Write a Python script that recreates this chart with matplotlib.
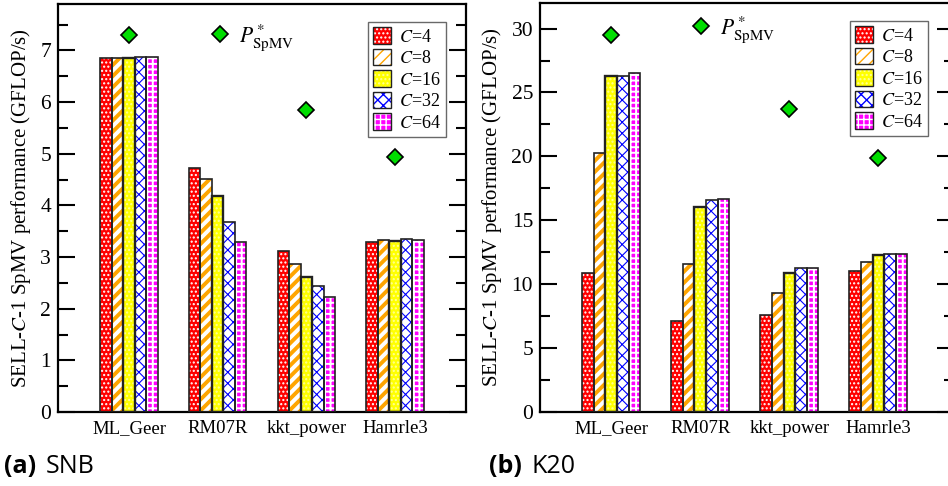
import matplotlib
matplotlib.use("Agg")
import matplotlib.pyplot as plt
from matplotlib.patches import Patch
from matplotlib.lines import Line2D
from matplotlib.legend_handler import HandlerTuple
import numpy as np

plt.rcParams['font.family'] = ['Liberation Serif', 'DejaVu Serif']
plt.rcParams['mathtext.fontset'] = 'stix'

# data
MATRICES = ['ML_Geer', 'RM07R', 'kkt_power', 'Hamrle3']
C_LABELS = ['$C$=4', '$C$=8', '$C$=16', '$C$=32', '$C$=64']

SNB_C4 = [6.86, 4.72, 3.12, 3.29]
SNB_C8 = [6.86, 4.52, 2.86, 3.33]
SNB_C16 = [6.86, 4.19, 2.62, 3.32]
SNB_C32 = [6.88, 3.68, 2.44, 3.35]
SNB_C64 = [6.88, 3.29, 2.23, 3.34]
SNB_PSTAR = [7.30, np.nan, 5.85, 4.93]

K20_C4 = [10.9, 7.1, 7.6, 11.0]
K20_C8 = [20.3, 11.6, 9.3, 11.7]
K20_C16 = [26.3, 16.0, 10.9, 12.3]
K20_C32 = [26.3, 16.6, 11.3, 12.4]
K20_C64 = [26.5, 16.7, 11.3, 12.4]
K20_PSTAR = [29.5, np.nan, 23.7, 19.9]

# face, hatch, hatch colour, hatch linewidth
STYLES = [
    ('#ff0000', '....', 'white', 1.0),
    ('white', '///', '#ffa500', 2.8),
    ('#ffff00', '....', '#ffff99', 1.0),
    ('white', 'xxx', '#0000ff', 0.8),
    ('#ff00ff', '+++', 'white', 1.4),
]
EDGE = '#222222'
WIDTH = 0.13
X = np.arange(1, len(MATRICES) + 1)


def hatched_bar(ax, x, h, style, lw=1.2):
    face, hatch, hcol, hlw = style
    with plt.rc_context({'hatch.linewidth': hlw}):
        base = ax.bar(x, h, WIDTH, color=face, hatch=hatch, edgecolor=hcol,
                      linewidth=0, zorder=2)
        for p in base:
            if hasattr(p, 'set_hatch_linewidth'):
                p.set_hatch_linewidth(hlw)
    ax.bar(x, h, WIDTH, fill=False, edgecolor=EDGE, linewidth=lw, zorder=3)


def legend_handle(style):
    face, hatch, hcol, hlw = style
    with plt.rc_context({'hatch.linewidth': hlw}):
        p1 = Patch(facecolor=face, hatch=hatch, edgecolor=hcol, linewidth=0)
        if hasattr(p1, 'set_hatch_linewidth'):
            p1.set_hatch_linewidth(hlw)
    p2 = Patch(fill=False, edgecolor=EDGE, linewidth=1.0)
    return (p1, p2)


def panel(ax, series, pstar, xmax, ymax, major, minor, legx, legy, px, py):
    for i, vals in enumerate(series):
        hatched_bar(ax, X + (i - 2) * WIDTH, vals, STYLES[i],
                    lw=1.7 if i == 2 else 1.2)
    ax.plot(X, pstar, 'D', color='#00dd00', markeredgecolor='black',
            markeredgewidth=1.2, markersize=8, zorder=4)
    ax.set_xlim(0.2, xmax)
    ax.set_ylim(0, ymax)
    ax.set_xticks(X)
    ax.set_xticklabels(MATRICES, fontsize=13.5)
    ax.set_yticks(np.arange(0, ymax, major))
    ax.set_yticks(np.arange(0, ymax, minor), minor=True)
    ax.tick_params(axis='y', which='both', direction='in', left=True,
                   right=True, labelsize=15.5, width=1.5)
    ax.tick_params(axis='y', which='major', length=12, pad=5)
    ax.tick_params(axis='y', which='minor', length=7)
    ax.tick_params(axis='x', length=0, pad=6)
    for s in ax.spines.values():
        s.set_linewidth(1.6)
    ax.set_ylabel('SELL-$C$-1 SpMV performance (GFLOP/s)', fontsize=15,
                  labelpad=5)
    leg = ax.legend([legend_handle(s) for s in STYLES], C_LABELS,
                    handler_map={tuple: HandlerTuple(ndivide=1)},
                    loc='upper right', bbox_to_anchor=(legx, legy),
                    fontsize=13, frameon=True, fancybox=False,
                    handlelength=1.0, handleheight=1.0, handletextpad=0.4,
                    labelspacing=0.18, borderpad=0.3, borderaxespad=0)
    leg.get_frame().set_edgecolor('#444444')
    leg.get_frame().set_linewidth(1.0)
    ax.add_artist(leg)
    key = Line2D([], [], marker='D', linestyle='none', color='#00dd00',
                 markeredgecolor='black', markeredgewidth=1.2, markersize=8)
    ax.legend([key], ['$P^*_{\\mathrm{SpMV}}$'], loc='center left',
              bbox_to_anchor=(px, py), frameon=False, fontsize=15.5,
              handlelength=1.0, handletextpad=0.4, borderaxespad=0,
              borderpad=0)


fig = plt.figure(figsize=(9.48, 4.86), dpi=100)
ax1 = fig.add_axes([58 / 948, 74 / 486, 408 / 948, 408 / 486])
ax2 = fig.add_axes([540 / 948, 74 / 486, 414 / 948, 409 / 486])

panel(ax1, [SNB_C4, SNB_C8, SNB_C16, SNB_C32, SNB_C64], SNB_PSTAR,
      4.8, 7.9, 1, 0.5, 0.951, 0.956, 0.37, 0.918)
panel(ax2, [K20_C4, K20_C8, K20_C16, K20_C32, K20_C64], K20_PSTAR,
      4.85, 32, 5, 2.5, 0.937, 0.956, 0.362, 0.935)

cap = dict(family=['Open Sans', 'DejaVu Sans'], fontsize=18, va='baseline')
fig.text(4 / 948, 13 / 486, '(a)', fontweight='bold', **cap)
fig.text(46 / 948, 13 / 486, 'SNB', **cap)
fig.text(489 / 948, 13 / 486, '(b)', fontweight='bold', **cap)
fig.text(531 / 948, 13 / 486, 'K20', **cap)

fig.savefig('out.png', dpi=100)
